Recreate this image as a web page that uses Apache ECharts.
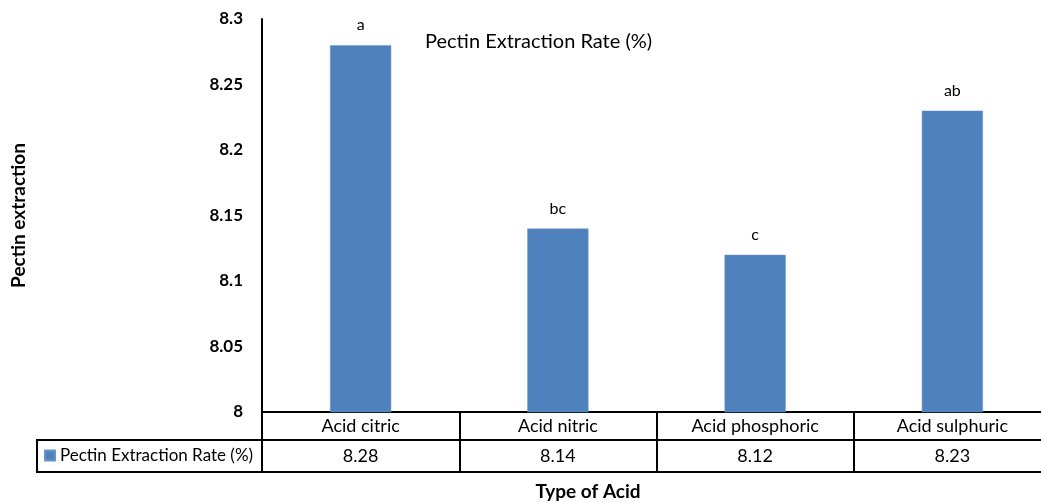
<!DOCTYPE html>
<html>
<head>
<meta charset="utf-8">
<style>
  html, body { margin: 0; padding: 0; background: #fff; }
  #chart { width: 1041px; height: 502px; }
</style>
<script src="https://cdn.jsdelivr.net/npm/echarts@6/dist/echarts.min.js"></script>
</head>
<body>
<div id="chart"></div>
<script>
// Pectin extraction rate by acid type, with significance letters
const categories = ['Acid citric', 'Acid nitric', 'Acid phosphoric', 'Acid sulphuric'];
const pectinRate = [8.28, 8.14, 8.12, 8.23];
const groupLetters = ['a', 'bc', 'c', 'ab'];
const seriesName = 'Pectin Extraction Rate (%)';
const yTicks = { min: 8, max: 8.3, interval: 0.05 };

const FONT = 'Lato, "Open Sans", sans-serif';
const BLUE = '#4f81bd';

const gridLeft = 262, gridTop = 19, gridWidth = 789, gridHeight = 393;
const rowH1 = 28, rowH2 = 32;
const tableLeft = 37;
const lineW = 2;

const chart = echarts.init(document.getElementById('chart'), null, { renderer: 'canvas' });

const tableAxisBase = {
  type: 'category',
  data: categories,
  position: 'bottom',
  boundaryGap: true,
  axisLine: { show: true, lineStyle: { color: '#000', width: lineW } },
  splitLine: { show: false }
};

chart.setOption({
  animation: false,
  textStyle: { fontFamily: FONT },
  title: {
    text: seriesName,
    left: 425,
    top: 32,
    padding: 0,
    textStyle: { fontFamily: FONT, fontSize: 20, fontWeight: 'normal', color: '#000' }
  },
  legend: {
    data: [seriesName],
    left: tableLeft + 7,
    top: gridTop + gridHeight + rowH1 + 7,
    icon: 'rect',
    itemWidth: 10,
    itemHeight: 10,
    itemGap: 0,
    padding: 0,
    textStyle: { fontFamily: FONT, fontSize: 17, color: '#000' }
  },
  grid: {
    left: gridLeft, top: gridTop, width: gridWidth, height: gridHeight,
    containLabel: false, outerBoundsMode: 'none'
  },
  xAxis: [
    Object.assign({}, tableAxisBase, {
      axisTick: { show: true, length: rowH1, lineStyle: { color: '#000', width: lineW } },
      axisLabel: { show: true, margin: 5, fontFamily: FONT, fontSize: 18, color: '#000' }
    }),
    Object.assign({}, tableAxisBase, {
      offset: rowH1,
      axisTick: { show: true, length: rowH2, lineStyle: { color: '#000', width: lineW } },
      axisLabel: {
        show: true, margin: 7, fontFamily: FONT, fontSize: 18, color: '#000',
        formatter: (v, i) => pectinRate[i].toFixed(2)
      }
    }),
    Object.assign({}, tableAxisBase, {
      offset: rowH1 + rowH2,
      axisTick: { show: false },
      axisLabel: { show: false }
    })
  ],
  yAxis: {
    type: 'value',
    min: yTicks.min,
    max: yTicks.max,
    interval: yTicks.interval,
    name: 'Pectin extraction',
    nameLocation: 'middle',
    nameGap: 234,
    nameTextStyle: { fontFamily: FONT, fontSize: 19, fontWeight: 'bold', color: '#000' },
    axisLine: { show: true, lineStyle: { color: '#000', width: lineW } },
    axisTick: { show: false },
    splitLine: { show: false },
    axisLabel: {
      margin: 19,
      fontFamily: FONT, fontSize: 17, fontWeight: 'bold', color: '#000',
      formatter: v => String(+v.toFixed(2))
    }
  },
  series: [{
    name: seriesName,
    type: 'bar',
    xAxisIndex: 0,
    data: pectinRate,
    barWidth: '31%',
    itemStyle: { color: BLUE, borderColor: '#6a95c9', borderWidth: 0.5 },
    label: {
      show: true,
      position: 'top',
      distance: 12,
      fontFamily: FONT,
      fontSize: 16,
      color: '#000',
      formatter: p => groupLetters[p.dataIndex]
    }
  }],
  graphic: [
    {
      type: 'rect',
      shape: { x: tableLeft, y: gridTop + gridHeight + rowH1, width: gridLeft - tableLeft, height: rowH2 },
      style: { fill: 'none', stroke: '#000', lineWidth: lineW },
      z: 10
    },
    {
      type: 'text',
      x: 588,
      y: 492,
      style: {
        text: 'Type of Acid',
        font: 'bold 19px ' + FONT,
        fill: '#000',
        align: 'center',
        verticalAlign: 'middle'
      }
    }
  ]
});
</script>
</body>
</html>
